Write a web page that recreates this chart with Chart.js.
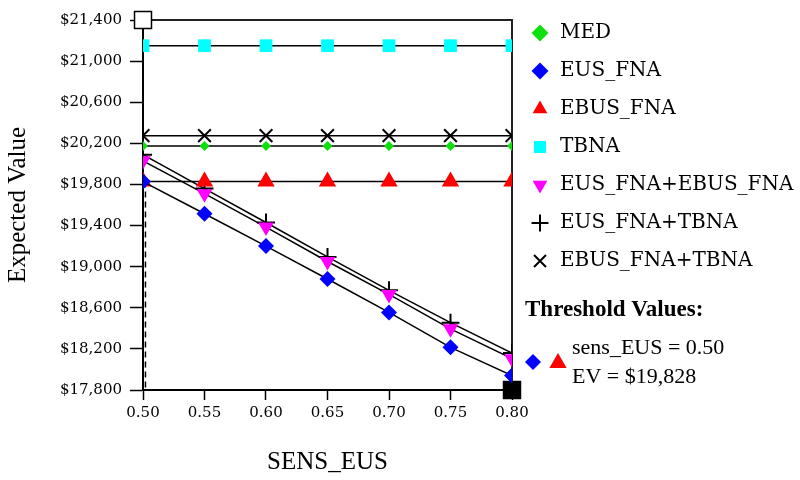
<!DOCTYPE html>
<html>
<head>
<meta charset="utf-8">
<script src="https://cdn.jsdelivr.net/npm/chart.js@4.4.1/dist/chart.umd.min.js"></script>
<style>
  html, body { margin: 0; padding: 0; background: #fff; }
  canvas { display: block; }
</style>
</head>
<body>
<canvas id="chart" width="800" height="480"></canvas>
<script>
// x values (sens_EUS)
const sensEus = [0.50, 0.55, 0.60, 0.65, 0.70, 0.75, 0.80];

// expected value per strategy
const med = [20175, 20175, 20175, 20175, 20175, 20175, 20175];
const eusFna = [19828, 19515, 19200, 18880, 18555, 18215, 17940];
const ebusFna = [19828, 19828, 19828, 19828, 19828, 19828, 19828];
const tbna = [21150, 21150, 21150, 21150, 21150, 21150, 21150];
const eusEbus = [20030, 19710, 19385, 19050, 18730, 18395, 18105];
const eusTbna = [20090, 19760, 19430, 19095, 18770, 18455, 18160];
const ebusTbna = [20275, 20275, 20275, 20275, 20275, 20275, 20275];

// axis ranges and tick steps
const sensRange = [0.50, 0.80];
const evRange = [17800, 21400];
const sensStep = 0.05;
const evStep = 400;

// threshold where EUS_FNA meets EBUS_FNA
const thresholdSens = 0.502;
const thresholdEv = 19828;

const series = [
  { label: 'MED', values: med, color: '#0ee00e', style: 'rectRot', radius: 5 },
  { label: 'EUS_FNA', values: eusFna, color: '#0000ff', style: 'rectRot', radius: 8 },
  { label: 'EBUS_FNA', values: ebusFna, color: '#ff0000', style: 'triangle', radius: 10 },
  { label: 'TBNA', values: tbna, color: '#00ffff', style: 'rect', radius: 9 },
  { label: 'EUS_FNA+EBUS_FNA', values: eusEbus, color: '#ff00ff', style: 'triangle', radius: 9, rotation: 180 },
  { label: 'EUS_FNA+TBNA', values: eusTbna, color: '#000000', style: 'cross', radius: 9, stroke: true },
  { label: 'EBUS_FNA+TBNA', values: ebusTbna, color: '#000000', style: 'crossRot', radius: 9, stroke: true },
];

const toPoints = (values) => values.map((y, i) => ({ x: sensEus[i], y }));

const datasets = series.map((s) => ({
  label: s.label,
  data: toPoints(s.values),
  showLine: true,
  borderColor: '#000',
  borderWidth: 1.5,
  pointStyle: s.style,
  pointRotation: s.rotation || 0,
  pointRadius: s.radius,
  pointHoverRadius: s.radius,
  pointBackgroundColor: s.color,
  pointBorderColor: s.color,
  pointBorderWidth: s.stroke ? 2 : 0,
  clip: 0,
}));

// dashed drop line at the threshold
datasets.push({
  label: 'threshold',
  data: [{ x: thresholdSens, y: thresholdEv }, { x: thresholdSens, y: evRange[0] }],
  showLine: true,
  borderColor: '#000',
  borderWidth: 1.5,
  borderDash: [6, 4],
  pointRadius: 0,
});

// range corner squares
datasets.push({
  label: 'range',
  data: [{ x: sensRange[0], y: evRange[1] }, { x: sensRange[1], y: evRange[0] }],
  showLine: false,
  pointStyle: 'rect',
  pointRadius: 12,
  pointHoverRadius: 12,
  pointBackgroundColor: ['#fff', '#000'],
  pointBorderColor: '#000',
  pointBorderWidth: 1.5,
  clip: false,
});

const plotFrame = {
  id: 'plotFrame',
  beforeDatasetsDraw(chart) {
    const { ctx, chartArea: { left, top, right, bottom } } = chart;
    ctx.save();
    ctx.strokeStyle = '#222';
    ctx.lineWidth = 2;
    ctx.beginPath();
    ctx.moveTo(left, top);
    ctx.lineTo(right, top);
    ctx.lineTo(right, bottom);
    ctx.stroke();
    ctx.restore();
  }
};

const thresholdNote = {
  id: 'thresholdNote',
  afterDraw(chart) {
    const { ctx, chartArea } = chart;
    const x = chartArea.right + 13;
    ctx.save();
    ctx.fillStyle = '#000';
    ctx.textBaseline = 'middle';
    ctx.font = 'bold 23px "Liberation Serif"';
    ctx.fillText('Threshold Values:', x, 310);

    ctx.fillStyle = '#0000ff';
    Chart.helpers.drawPoint(ctx, { pointStyle: 'rectRot', radius: 8, borderWidth: 0 }, x + 8, 362);
    ctx.fillStyle = '#ff0000';
    Chart.helpers.drawPoint(ctx, { pointStyle: 'triangle', radius: 10, borderWidth: 0 }, x + 33, 363);

    ctx.fillStyle = '#000';
    ctx.font = '22px "Liberation Serif"';
    ctx.fillText(`sens_EUS = ${thresholdSens.toFixed(2)}`, x + 47, 348);
    ctx.fillText(`EV = $${thresholdEv.toLocaleString('en-US')}`, x + 47, 377);
    ctx.restore();
  }
};

new Chart(document.getElementById('chart'), {
  type: 'scatter',
  data: { datasets },
  plugins: [plotFrame, thresholdNote],
  options: {
    responsive: false,
    animation: false,
    events: [],
    layout: { padding: { top: 5, left: 0, right: 0, bottom: 0 } },
    plugins: {
      tooltip: { enabled: false },
      legend: {
        position: 'right',
        align: 'start',
        maxWidth: 288,
        labels: {
          filter: (item) => item.datasetIndex < series.length,
          usePointStyle: true,
          boxWidth: 20,
          boxHeight: 12,
          padding: 18,
          color: '#000',
          font: { family: '"DejaVu Serif"', size: 20 },
        },
      },
    },
    scales: {
      x: {
        type: 'linear',
        min: sensRange[0],
        max: sensRange[1],
        afterFit: (scale) => {
          scale.height = 90;
          scale.paddingRight = 288;
        },
        border: { display: true, color: '#000', width: 2 },
        grid: { drawOnChartArea: false, drawTicks: true, tickLength: 10, tickColor: '#000', tickWidth: 1.5 },
        ticks: {
          stepSize: sensStep,
          padding: 4,
          color: '#000',
          font: { family: '"DejaVu Serif"', size: 15 },
          callback: (v) => Number(v).toFixed(2),
        },
        title: {
          display: true,
          text: 'SENS_EUS',
          color: '#000',
          font: { family: '"Liberation Serif"', size: 25 },
          padding: { top: 0, bottom: 3 },
        },
      },
      y: {
        type: 'linear',
        min: evRange[0],
        max: evRange[1],
        afterFit: (scale) => {
          scale.width = 143;
          scale.paddingTop = 20;
        },
        border: { display: true, color: '#000', width: 2 },
        grid: { drawOnChartArea: false, drawTicks: true, tickLength: 13, tickColor: '#000', tickWidth: 1.5 },
        ticks: {
          stepSize: evStep,
          padding: 8,
          color: '#000',
          font: { family: '"DejaVu Serif"', size: 15 },
          callback: (v) => '$' + Number(v).toLocaleString('en-US'),
        },
        title: {
          display: true,
          text: 'Expected Value',
          color: '#000',
          font: { family: '"Liberation Serif"', size: 25 },
          padding: { top: 3, bottom: 0 },
        },
      },
    },
  },
});
</script>
</body>
</html>
